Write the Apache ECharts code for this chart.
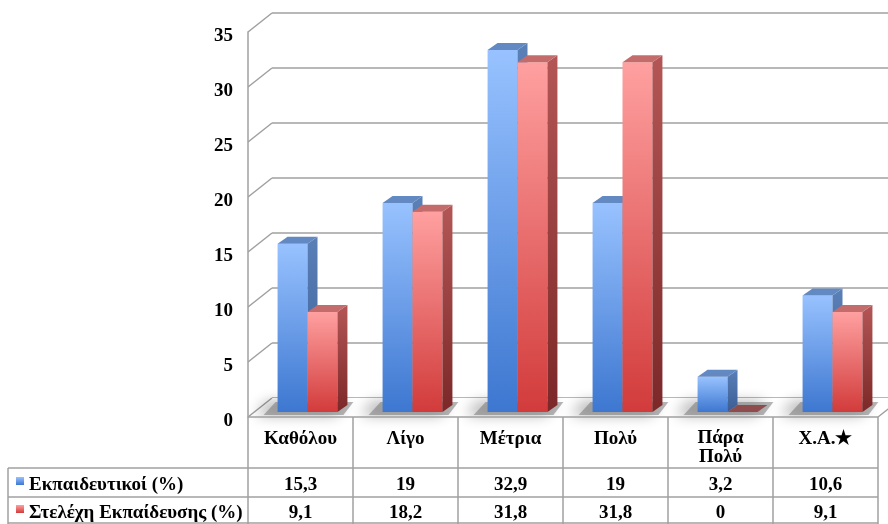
<!DOCTYPE html>
<html><head><meta charset="utf-8">
<script src="https://cdn.jsdelivr.net/npm/echarts@6/dist/echarts.min.js"></script>
<style>html,body{margin:0;padding:0;background:#fff}#c{width:888px;height:524px}</style>
</head><body><div id="c"></div>
<script>
const categories = ['Καθόλου', 'Λίγο', 'Μέτρια', 'Πολύ', 'Πάρα\nΠολύ', 'Χ.Α.★'];
const seriesNames = ['Εκπαιδευτικοί (%)', 'Στελέχη Εκπαίδευσης (%)'];
const teachers = [15.3, 19, 32.9, 19, 3.2, 10.6];
const staff = [9.1, 18.2, 31.8, 31.8, 0, 9.1];
const yTicks = [0, 5, 10, 15, 20, 25, 30, 35];

const WALL = [24, -19];
const BAR_DEPTH = [10, -7];
const LINE = '#a0a0a0';
const FAMILY = '"Liberation Serif", "Times New Roman", serif';
const FONT = 'bold 19px ' + FAMILY;
const fmt = v => String(v).replace('.', ',');

function lin(c1, c2) {
  return { type: 'linear', x: 0, y: 0, x2: 0, y2: 1, colorStops: [{ offset: 0, color: c1 }, { offset: 1, color: c2 }] };
}
const barColors = [
  { front: ['#98c2ff', '#3d77d0'], side: ['#5a80b8', '#3b5d94'], top: '#6389c2' },
  { front: ['#ffa0a0', '#d23b3b'], side: ['#b45656', '#7c2828'], top: '#c46c6c' }
];

function barRender(s) {
  const c = barColors[s];
  return function (params, api) {
    const i = api.value(0), v = api.value(1);
    const top = api.coord([i, v]), base = api.coord([i, 0]);
    const band = api.size([1, 0])[0];
    const w = band * 0.285;
    const x0 = s === 0 ? top[0] - w : top[0];
    const yt = top[1], yb = base[1];
    const dx = BAR_DEPTH[0], dy = BAR_DEPTH[1];
    return { type: 'group', children: [
      { type: 'rect', shape: { x: x0, y: yt, width: w, height: yb - yt }, style: { fill: lin(c.front[0], c.front[1]) } },
      { type: 'polygon', shape: { points: [[x0 + w, yt], [x0 + w + dx, yt + dy], [x0 + w + dx, yb + dy], [x0 + w, yb]] }, style: { fill: lin(c.side[0], c.side[1]) } },
      { type: 'polygon', shape: { points: [[x0, yt], [x0 + dx, yt + dy], [x0 + w + dx, yt + dy], [x0 + w, yt]] }, style: { fill: s === 1 && v === 0 ? '#8e4c4c' : c.top } }
    ] };
  };
}

function shadowRender(params, api) {
  const i = api.value(0);
  const base = api.coord([i, 0]);
  const band = api.size([1, 0])[0];
  const w = band * 0.285;
  const x0 = base[0] - w, x1 = base[0] + w;
  const yb = base[1];
  return { type: 'polygon', shape: { points: [[x0 - 14, yb + 3], [x1 + 6, yb + 3], [x1 + 16, yb - 10], [x0 - 2, yb - 10]] },
    style: { fill: 'rgba(120,120,120,0.55)', shadowBlur: 14, shadowColor: 'rgba(0,0,0,0.6)', shadowOffsetX: -8 } };
}

function wallRender(params, api) {
  const cs = params.coordSys;
  const v = api.value(1);
  const p = api.coord([0, v]);
  return { type: 'group', children: [
    { type: 'line', shape: { x1: cs.x, y1: p[1], x2: cs.x + WALL[0], y2: p[1] + WALL[1] }, style: { stroke: LINE, lineWidth: 1.5 } },
    { type: 'text', style: { text: String(v), x: cs.x - 15, y: p[1] + 4, font: FONT, fill: '#000', align: 'right', verticalAlign: 'middle' } }
  ] };
}

function floorRender(params, api) {
  const cs = params.coordSys;
  const yb = cs.y + cs.height, xl = cs.x, xr = cs.x + cs.width;
  return { type: 'group', children: [
    { type: 'polygon', shape: { points: [[xl, yb], [xr, yb], [xr + WALL[0], yb + WALL[1]], [xl + WALL[0], yb + WALL[1]]] }, style: { fill: '#ffffff' } },
    { type: 'line', shape: { x1: xr, y1: yb, x2: xr + WALL[0], y2: yb + WALL[1] }, style: { stroke: LINE, lineWidth: 1.5 } }
  ] };
}

function tableRender(params, api) {
  const cs = params.coordSys;
  const i = api.value(0);
  const c = api.coord([i, 0]);
  const band = api.size([1, 0])[0];
  const base = cs.y + cs.height;
  const xl = c[0] - band / 2, xr = c[0] + band / 2;
  const ch = [];
  if (i === 0) ch.push({ type: 'line', shape: { x1: xl, y1: base, x2: xl, y2: 524 }, style: { stroke: LINE, lineWidth: 1.5 } });
  ch.push({ type: 'line', shape: { x1: xr, y1: base, x2: xr, y2: 524 }, style: { stroke: LINE, lineWidth: 1.5 } });
  const multi = categories[i].indexOf('\n') >= 0;
  ch.push({ type: 'text', style: { text: categories[i], x: c[0], y: multi ? base + 31 : base + 22, font: FONT, fill: '#000', align: 'center', verticalAlign: 'middle', lineHeight: 19 } });
  ch.push({ type: 'text', style: { text: fmt(teachers[i]), x: c[0], y: base + 68, font: FONT, fill: '#000', align: 'center', verticalAlign: 'middle' } });
  ch.push({ type: 'text', style: { text: fmt(staff[i]), x: c[0], y: base + 96, font: FONT, fill: '#000', align: 'center', verticalAlign: 'middle' } });
  return { type: 'group', children: ch };
}

function rowHeadRender(params, api) {
  const cs = params.coordSys;
  const base = cs.y + cs.height;
  const xr = cs.x + cs.width;
  const rows = [base + 51, base + 80, base + 106];
  const ch = [];
  ch.push({ type: 'line', shape: { x1: cs.x, y1: base, x2: xr, y2: base }, style: { stroke: LINE, lineWidth: 1.5 } });
  rows.forEach(y => ch.push({ type: 'line', shape: { x1: 8, y1: y, x2: xr, y2: y }, style: { stroke: LINE, lineWidth: 1.5 } }));
  ch.push({ type: 'line', shape: { x1: 8, y1: rows[0], x2: 8, y2: 524 }, style: { stroke: LINE, lineWidth: 1.5 } });
  seriesNames.forEach((n, k) => {
    const yc = k === 0 ? base + 68 : base + 96;
    ch.push({ type: 'rect', shape: { x: 16, y: yc - 8, width: 8, height: 8 }, style: { fill: lin(barColors[k].front[0], barColors[k].front[1]) } });
    ch.push({ type: 'text', style: { text: n, x: 29, y: yc, font: FONT, fill: '#000', align: 'left', verticalAlign: 'middle' } });
  });
  return { type: 'group', children: ch };
}

const chart = echarts.init(document.getElementById('c'), null, { renderer: 'canvas' });
const hiddenX = gi => ({ type: 'category', data: categories, gridIndex: gi, show: false, boundaryGap: true });
const yBase = gi => ({ type: 'value', gridIndex: gi, min: 0, max: 35, interval: 5 });

chart.setOption({
  animation: false,
  backgroundColor: '#ffffff',
  grid: [
    { left: 255, top: 27, width: 630, height: 385 },
    { left: 248, top: 32, width: 630, height: 385 },
    { left: 272, top: 13, width: 630, height: 385 }
  ],
  xAxis: [hiddenX(0), hiddenX(1), hiddenX(2)],
  yAxis: [
    Object.assign(yBase(0), { show: false }),
    Object.assign(yBase(1), {
      axisLine: { show: true, lineStyle: { color: LINE, width: 1.5 } },
      axisTick: { show: false }, splitLine: { show: false }, axisLabel: { show: false }
    }),
    Object.assign(yBase(2), {
      axisLine: { show: false }, axisTick: { show: false }, axisLabel: { show: false },
      splitLine: { show: true, lineStyle: { color: LINE, width: 1.5 } }
    })
  ],
  series: [
    { type: 'custom', xAxisIndex: 1, yAxisIndex: 1, renderItem: floorRender, data: [[0, 0]], silent: true },
    { type: 'custom', xAxisIndex: 1, yAxisIndex: 1, renderItem: wallRender, data: yTicks.map(v => [0, v]), silent: true },
    { type: 'custom', xAxisIndex: 0, yAxisIndex: 0, renderItem: shadowRender, data: categories.map((c, i) => [i, 0]), silent: true },
    { type: 'custom', name: seriesNames[0], xAxisIndex: 0, yAxisIndex: 0, renderItem: barRender(0), data: teachers.map((v, i) => [i, v]), encode: { x: 0, y: 1 } },
    { type: 'custom', name: seriesNames[1], xAxisIndex: 0, yAxisIndex: 0, renderItem: barRender(1), data: staff.map((v, i) => [i, v]), encode: { x: 0, y: 1 } },
    { type: 'custom', xAxisIndex: 1, yAxisIndex: 1, renderItem: tableRender, data: categories.map((c, i) => [i, 0]), silent: true },
    { type: 'custom', xAxisIndex: 1, yAxisIndex: 1, renderItem: rowHeadRender, data: [[0, 0]], silent: true }
  ]
});
</script></body></html>
